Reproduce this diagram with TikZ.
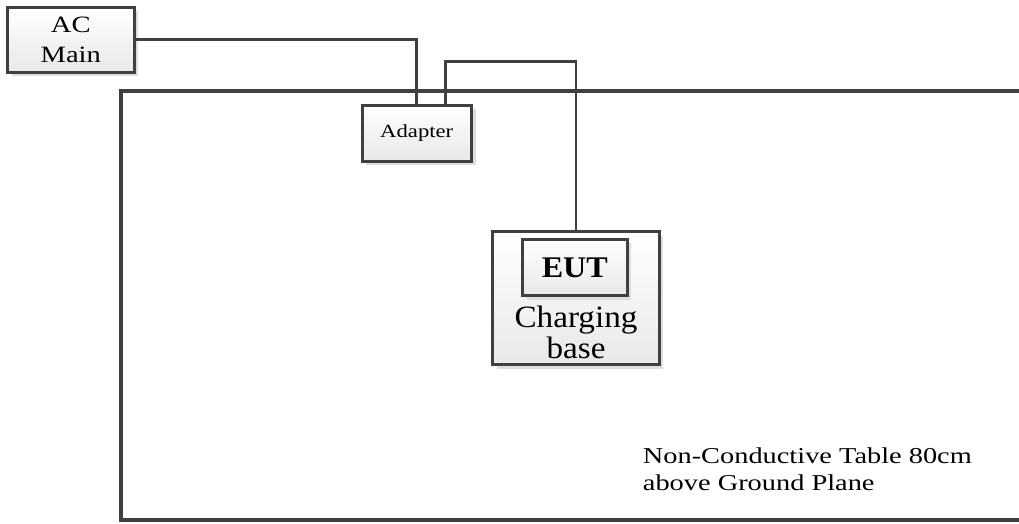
\documentclass[tikz,border=0pt]{standalone}
\usepackage{fontspec}
\setmainfont{Liberation Serif}
\newfontfamily\wideserif[FakeStretch=1.22]{Liberation Serif}
\newfontfamily\widerserif[FakeStretch=1.25]{Liberation Serif}
\newfontfamily\midserif[FakeStretch=1.07]{Liberation Serif}
\usetikzlibrary{shadows}
\definecolor{linegray}{HTML}{404040}
\tikzset{
  boxstyle/.style={draw=linegray, line width=3pt, top color=white, bottom color=black!9,
    drop shadow={shadow xshift=4pt, shadow yshift=-4pt, fill=black!13, opacity=1},
    inner sep=0pt, align=center},
  wire/.style={draw=linegray, line width=2.7pt},
  tableedge/.style={draw=linegray, line width=4pt},
  plain/.style={inner sep=0pt, text=black}
}
\begin{document}
\begin{tikzpicture}[x=1pt,y=-1pt]
\useasboundingbox (0,0) rectangle (1019,523);
\fill[white] (0,0) rectangle (1019,523);
% table outline (open to the right)
\draw[tableedge] (1035,91.3) -- (121,91.3) -- (121,520.3) -- (1035,520.3);
% nodes
\coordinate (bend) at (500,61.3);
\node[boxstyle, minimum width=126.5pt, minimum height=64.7pt,
  font={\wideserif\fontsize{23.4}{30}\selectfont}] (acmain) at (70.75,39.65) {AC\\Main};
\node[boxstyle, minimum width=109.5pt, minimum height=56pt,
  font={\wideserif\fontsize{18.6}{22}\selectfont}] (adapter) at (416.75,133) {Adapter};
\node[boxstyle, minimum width=166.6pt, minimum height=133.3pt] (base) at (576,298.3) {};
\node[boxstyle, minimum width=104.5pt, minimum height=56.8pt,
  font={\midserif\bfseries\fontsize{30}{36}\selectfont}] (eut) at (574.75,267.4) {EUT};
\node[plain, align=center, font={\midserif\fontsize{31}{31}\selectfont}] (baselabel) at (576,332.2) {Charging\\base};
\node[plain, align=left, anchor=north west, font={\widerserif\fontsize{22.7}{27}\selectfont}] (tablelabel) at (642.7,447.6) {Non-Conductive Table 80cm\\above Ground Plane};
% connectors
\draw[wire] (acmain.east) -| (adapter.north);
\draw[wire] ([xshift=29pt]adapter.north) |- (bend) -| (base.north);
\end{tikzpicture}
\end{document}
